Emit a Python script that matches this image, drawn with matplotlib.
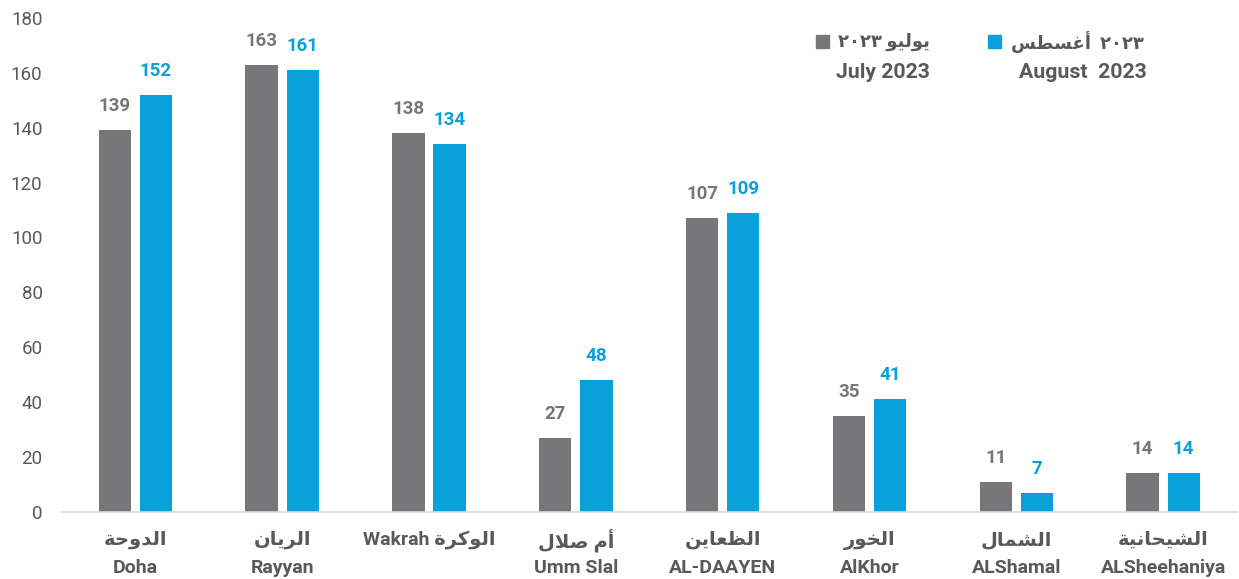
import matplotlib
matplotlib.use("Agg")
import matplotlib.pyplot as plt
from matplotlib.patches import Rectangle
from matplotlib.transforms import blended_transform_factory
import numpy as np

# ---------------- data ----------------
categories_ar = ["الدوحة", "الريان", "الوكرة", "أم صلال", "الظعاين", "الخور", "الشمال", "الشيحانية"]
categories_en = ["Doha", "Rayyan", "Wakrah", "Umm Slal", "AL-DAAYEN", "AlKhor", "ALShamal", "ALSheehaniya"]
july = [139, 163, 138, 27, 107, 35, 11, 14]
august = [152, 161, 134, 48, 109, 41, 7, 14]
yticks = [0, 20, 40, 60, 80, 100, 120, 140, 160, 180]
legend_ar = ["يوليو", "أغسطس"]
legend_year_ar = "٢٠٢٣"
legend_en = ["July 2023", "August  2023"]

# ------------- minimal Arabic shaping (presentation forms) -------------
FORMS = {
    "ا": (0xFE8D, 0xFE8E, None, None),
    "أ": (0xFE83, 0xFE84, None, None),
    "د": (0xFEA9, 0xFEAA, None, None),
    "ر": (0xFEAD, 0xFEAE, None, None),
    "و": (0xFEED, 0xFEEE, None, None),
    "ة": (0xFE93, 0xFE94, None, None),
    "ل": (0xFEDD, 0xFEDE, 0xFEDF, 0xFEE0),
    "ح": (0xFEA1, 0xFEA2, 0xFEA3, 0xFEA4),
    "خ": (0xFEA5, 0xFEA6, 0xFEA7, 0xFEA8),
    "ي": (0xFEF1, 0xFEF2, 0xFEF3, 0xFEF4),
    "ن": (0xFEE5, 0xFEE6, 0xFEE7, 0xFEE8),
    "ك": (0xFED9, 0xFEDA, 0xFEDB, 0xFEDC),
    "م": (0xFEE1, 0xFEE2, 0xFEE3, 0xFEE4),
    "ص": (0xFEB9, 0xFEBA, 0xFEBB, 0xFEBC),
    "ظ": (0xFEC5, 0xFEC6, 0xFEC7, 0xFEC8),
    "ع": (0xFEC9, 0xFECA, 0xFECB, 0xFECC),
    "غ": (0xFECD, 0xFECE, 0xFECF, 0xFED0),
    "ش": (0xFEB5, 0xFEB6, 0xFEB7, 0xFEB8),
    "س": (0xFEB1, 0xFEB2, 0xFEB3, 0xFEB4),
    "ط": (0xFEC1, 0xFEC2, 0xFEC3, 0xFEC4),
}
LAM_ALEF = {"ا": (0xFEFB, 0xFEFC), "أ": (0xFEF7, 0xFEF8)}


def shape(word):
    chars = list(word)
    out = []
    i = 0
    n = len(chars)

    def dual(c):
        return c in FORMS and FORMS[c][2] is not None

    while i < n:
        c = chars[i]
        if c not in FORMS:
            out.append(c)
            i += 1
            continue
        prev_join = i > 0 and dual(chars[i - 1])
        if c == "ل" and i + 1 < n and chars[i + 1] in LAM_ALEF:
            iso, fin = LAM_ALEF[chars[i + 1]]
            out.append(chr(fin if prev_join else iso))
            i += 2
            continue
        next_join = dual(c) and i + 1 < n and chars[i + 1] in FORMS
        iso, fin, ini, med = FORMS[c]
        if prev_join and next_join:
            code = med
        elif prev_join:
            code = fin
        elif next_join:
            code = ini
        else:
            code = iso
        out.append(chr(code))
        i += 1
    return "".join(reversed(out))


def shape_phrase(phrase):
    words = phrase.split(" ")
    return " ".join(shape(w) for w in reversed(words))


# ---------------- plot ----------------
FAM = ["Roboto", "DejaVu Sans"]
plt.rcParams["font.family"] = FAM

GREY = "#77777a"
BLUE = "#0aa1da"
TXT = "#595959"

W, H = 1239, 579
fig = plt.figure(figsize=(W / 100, H / 100), dpi=100)
ax = fig.add_axes([0.050, 0.116, 0.948, 0.853])

x = np.arange(len(categories_en))
w = 0.22
off = 0.14
ax.bar(x - off, july, width=w, color=GREY)
ax.bar(x + off, august, width=w, color=BLUE)

for xi, v in zip(x, july):
    ax.text(xi - off, v + 5.5, str(v), ha="center", va="bottom",
            fontsize=13.5, fontweight="bold", color="#77777a")
for xi, v in zip(x, august):
    ax.text(xi + off, v + 5.5, str(v), ha="center", va="bottom",
            fontsize=13.5, fontweight="bold", color=BLUE)

ax.set_xlim(-0.5, len(categories_en) - 0.5)
ax.set_ylim(0, 180)
ax.set_yticks(yticks)
ax.tick_params(axis="y", length=0, labelsize=13.5, labelcolor=TXT, pad=14)
ax.set_xticks(x)
ax.set_xticklabels([""] * len(x))
ax.tick_params(axis="x", length=0)

# category labels: Arabic line and English line
ax_h = ax.get_position().height * H
ybot = ax.get_position().y0 * H
y_ar = -(540 - (H - ybot)) / ax_h
y_en = -(568 - (H - ybot)) / ax_h
trans = blended_transform_factory(ax.transData, ax.transAxes)
for xi, ar, en in zip(x, categories_ar, categories_en):
    if en == "Wakrah":
        ax.text(xi, y_ar, en + " " + shape_phrase(ar), transform=trans, ha="center",
                va="center", fontsize=14, fontweight="bold", color=TXT)
    else:
        ax.text(xi, y_ar, shape_phrase(ar), transform=trans, ha="center",
                va="center", fontsize=14, fontweight="bold", color=TXT)
        ax.text(xi, y_en, en, transform=trans, ha="center",
                va="center", fontsize=14, fontweight="bold", color=TXT)

for s in ["top", "right", "left"]:
    ax.spines[s].set_visible(False)
ax.spines["bottom"].set_color("#d9d9d9")
ax.spines["bottom"].set_linewidth(1.2)

# legend (manual, as in reference)
sq = 13
fig.add_artist(Rectangle((816 / W, 1 - 48 / H), sq / W, sq / H, color=GREY,
                         transform=fig.transFigure))
fig.add_artist(Rectangle((988 / W, 1 - 48 / H), sq / W, sq / H, color=BLUE,
                         transform=fig.transFigure))
fig.text(930 / W, 1 - 42 / H, legend_year_ar + " " + shape(legend_ar[0]), color=TXT,
         fontsize=13, fontweight="bold", va="center", ha="right")
fig.text(930 / W, 1 - 72 / H, legend_en[0], color=TXT, fontsize=15.3, fontweight="bold",
         va="center", ha="right")
fig.text(1144 / W, 1 - 42 / H, shape(legend_ar[1]) + "  " + legend_year_ar, color=TXT,
         fontsize=13, fontweight="bold", va="center", ha="right")
fig.text(1147 / W, 1 - 72 / H, legend_en[1], color=TXT, fontsize=15.3, fontweight="bold",
         va="center", ha="right")

fig.savefig("out.png", dpi=100)
